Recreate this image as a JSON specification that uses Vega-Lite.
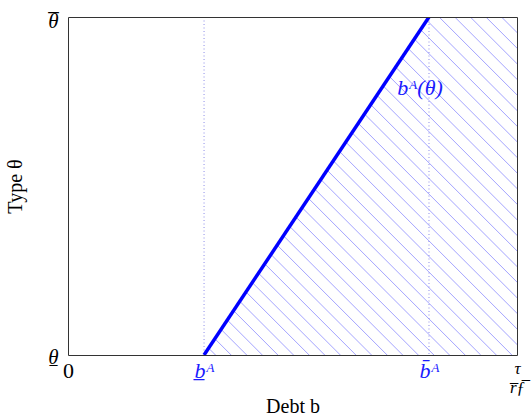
{
  "$schema": "https://vega.github.io/schema/vega-lite/v6.json",
  "autosize": {"type": "none"},
  "padding": {"left": 68, "top": 17, "right": 14, "bottom": 62},
  "width": 449,
  "height": 338,
  "background": "white",
  "config": {"view": {"stroke": null}, "font": "Liberation Serif"},
  "datasets": {
    "boundary": [{"theta": 0, "b": 0.303}, {"theta": 1, "b": 0.804}],
    "hatch": [
      {"x": -0.4243, "x2": 0.3285}, {"x": -0.3895, "x2": 0.3633}, {"x": -0.3548, "x2": 0.3980},
      {"x": -0.3200, "x2": 0.4327}, {"x": -0.2853, "x2": 0.4675}, {"x": -0.2505, "x2": 0.5022},
      {"x": -0.2158, "x2": 0.5370}, {"x": -0.1810, "x2": 0.5717}, {"x": -0.1463, "x2": 0.6065},
      {"x": -0.1116, "x2": 0.6412}, {"x": -0.0768, "x2": 0.6760}, {"x": -0.0421, "x2": 0.7107},
      {"x": -0.0073, "x2": 0.7454}, {"x": 0.0274, "x2": 0.7802}, {"x": 0.0622, "x2": 0.8149},
      {"x": 0.0969, "x2": 0.8497}, {"x": 0.1317, "x2": 0.8844}, {"x": 0.1664, "x2": 0.9192},
      {"x": 0.2011, "x2": 0.9539}, {"x": 0.2359, "x2": 0.9886}, {"x": 0.2706, "x2": 1.0234},
      {"x": 0.3054, "x2": 1.0581}, {"x": 0.3401, "x2": 1.0929}, {"x": 0.3749, "x2": 1.1276},
      {"x": 0.4096, "x2": 1.1624}, {"x": 0.4443, "x2": 1.1971}, {"x": 0.4791, "x2": 1.2319},
      {"x": 0.5138, "x2": 1.2666}, {"x": 0.5486, "x2": 1.3013}, {"x": 0.5833, "x2": 1.3361},
      {"x": 0.6181, "x2": 1.3708}, {"x": 0.6528, "x2": 1.4056}, {"x": 0.6875, "x2": 1.4403},
      {"x": 0.7223, "x2": 1.4751}, {"x": 0.7570, "x2": 1.5098}, {"x": 0.7918, "x2": 1.5445},
      {"x": 0.8265, "x2": 1.5793}, {"x": 0.8613, "x2": 1.6140}, {"x": 0.8960, "x2": 1.6488},
      {"x": 0.9307, "x2": 1.6835}, {"x": 0.9655, "x2": 1.7183}
    ],
    "cutoffs": [{"b": 0.303}, {"b": 0.804}],
    "curveLabel": [{"b": 0.784, "theta": 0.79, "label": "bᴬ(θ)"}]
  },
  "resolve": {"axis": {"x": "independent", "y": "independent"}},
  "layer": [
    {
      "data": {"name": "hatch"},
      "mark": {"type": "rule", "color": "#8c8cff", "strokeWidth": 0.8, "clip": true},
      "encoding": {
        "x": {
          "field": "x", "type": "quantitative",
          "scale": {"domain": [0, 1], "nice": false, "zero": false},
          "axis": {
            "orient": "bottom", "values": [0, 0.303, 0.804, 1],
            "labelExpr": "datum.value == 0 ? '0' : datum.value < 0.5 ? 'b̲ᴬ' : datum.value < 0.9 ? 'b̄ᴬ' : ['τ', 'r̅ƒ̅']",
            "ticks": false, "grid": false, "domainColor": "#333333", "domainWidth": 1,
            "labelFont": "Liberation Serif",
            "labelFontSize": {"condition": {"test": "datum.value > 0.9", "value": 17}, "value": 22},
            "labelPadding": 5,
            "labelFlush": false, "labelOverlap": false, "labelLineHeight": 19,
            "labelColor": {"condition": {"test": "datum.value > 0.1 && datum.value < 0.9", "value": "#1a1aff"}, "value": "black"},
            "labelFontStyle": {"condition": {"test": "datum.value > 0.1", "value": "italic"}, "value": "normal"},
            "title": "Debt b", "titleFont": "Liberation Serif", "titleFontSize": 20, "titleFontWeight": "normal",
            "titleColor": "black", "titleX": 224.5, "titleY": 51, "titleBaseline": "middle", "titleAlign": "center",
            "zindex": 1
          }
        },
        "x2": {"field": "x2"},
        "y": {
          "datum": 1, "type": "quantitative",
          "scale": {"domain": [0, 1], "nice": false, "zero": false},
          "axis": {
            "orient": "left", "values": [0, 1],
            "labelExpr": "datum.value > 0.5 ? ['_', 'θ'] : ['θ', '‾']",
            "ticks": false, "grid": false, "domainColor": "#333333", "domainWidth": 1,
            "labelFont": "Liberation Serif", "labelFontSize": 21, "labelFontStyle": "italic",
            "labelLineHeight": 18,
            "labelOffset": {"condition": {"test": "datum.value > 0.5", "value": -14}, "value": 2},
            "labelPadding": 15, "labelBaseline": "middle", "labelAlign": "center", "labelFlush": false, "labelOverlap": false,
            "labelColor": "black",
            "title": "Type θ", "titleFont": "Liberation Serif", "titleFontSize": 20, "titleFontWeight": "normal",
            "titleColor": "black", "titleX": -53, "titleY": 169, "titleBaseline": "middle", "titleAlign": "center",
            "zindex": 1
          }
        },
        "y2": {"datum": 0}
      }
    },
    {
      "data": {"name": "boundary"},
      "mark": {"type": "area", "orient": "horizontal", "color": "white", "clip": true},
      "encoding": {
        "y": {
          "field": "theta", "type": "quantitative",
          "scale": {"domain": [0, 1], "nice": false, "zero": false},
          "axis": {"orient": "right", "labels": false, "ticks": false, "grid": false, "title": null,
                   "domainColor": "#333333", "domainWidth": 1, "zindex": 1}
        },
        "x": {
          "field": "b", "type": "quantitative",
          "scale": {"domain": [0, 1], "nice": false, "zero": false},
          "axis": {"orient": "top", "labels": false, "ticks": false, "grid": false, "title": null,
                   "domainColor": "#333333", "domainWidth": 1, "zindex": 1}
        },
        "x2": {"datum": 0}
      }
    },
    {
      "data": {"name": "cutoffs"},
      "mark": {"type": "rule", "color": "#8c8ce8", "strokeWidth": 1, "strokeDash": [1, 2.5]},
      "encoding": {
        "x": {"field": "b", "type": "quantitative", "axis": null}
      }
    },
    {
      "data": {"name": "boundary"},
      "mark": {"type": "line", "color": "#0000ff", "strokeWidth": 3.5, "strokeCap": "butt", "clip": true},
      "encoding": {
        "x": {"field": "b", "type": "quantitative", "axis": null},
        "y": {"field": "theta", "type": "quantitative", "axis": null}
      }
    },
    {
      "data": {"name": "curveLabel"},
      "mark": {"type": "text", "color": "#1a1aff", "font": "Liberation Serif", "fontSize": 22, "fontStyle": "italic", "align": "center", "baseline": "middle"},
      "encoding": {
        "x": {"field": "b", "type": "quantitative", "axis": null},
        "y": {"field": "theta", "type": "quantitative", "axis": null},
        "text": {"field": "label"}
      }
    }
  ]
}
